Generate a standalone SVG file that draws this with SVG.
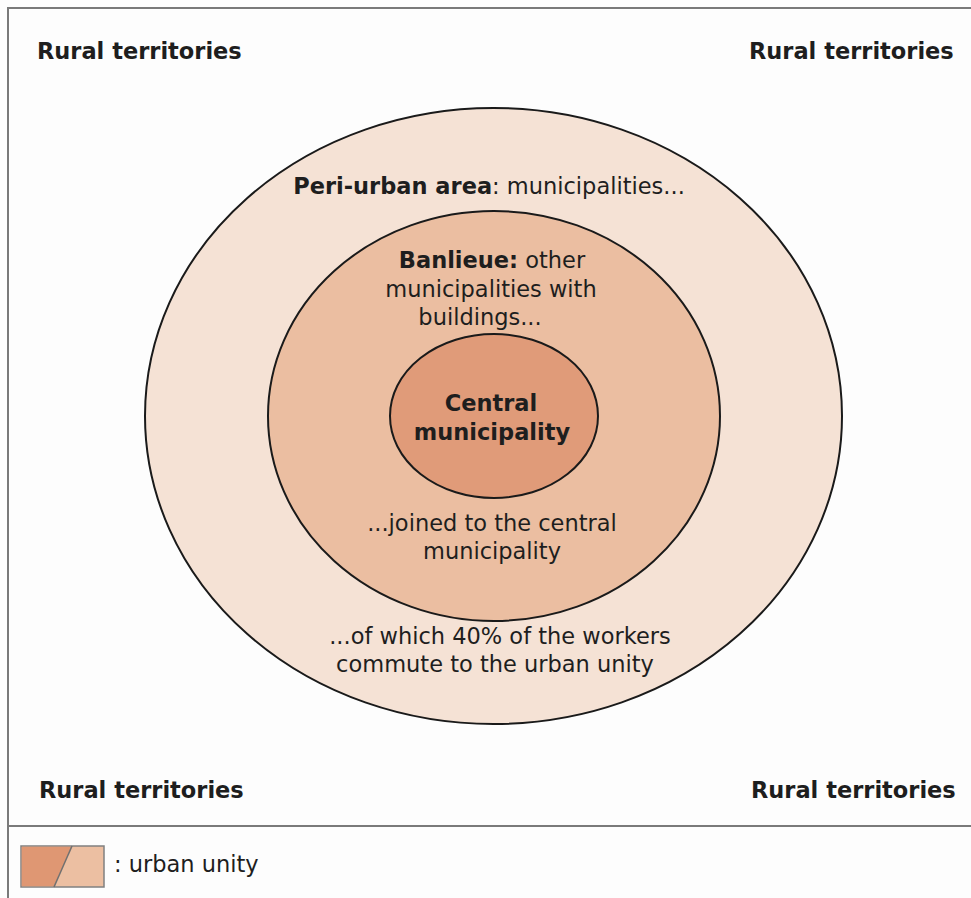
<svg xmlns="http://www.w3.org/2000/svg" width="971" height="898" viewBox="0 0 971 898">
<style>
text{font-family:"DejaVu Sans","Noto Sans",sans-serif;font-size:22.5px;fill:#1e1e1e}
.b{font-weight:bold}
.c{text-anchor:middle}
.ring{stroke:#1a1a1a;stroke-width:2}
.frame{stroke:#7a7a7a;stroke-width:2;fill:none}
</style>
<rect x="0" y="0" width="971" height="898" fill="#fdfdfd"/>
<g id="frame">
<path class="frame" d="M8 898 V8 H971"/>
<line class="frame" x1="8" y1="826" x2="971" y2="826" stroke="#8a8a8a"/>
</g>
<g id="corners">
<text class="b" x="37" y="59">Rural territories</text>
<text class="b" x="749" y="59">Rural territories</text>
<text class="b" x="39" y="798">Rural territories</text>
<text class="b" x="751" y="798">Rural territories</text>
</g>
<g id="peri-urban">
<ellipse class="ring" cx="493.5" cy="416" rx="348.5" ry="308" fill="#f5e2d5"/>
<text class="c" x="489" y="194"><tspan class="b">Peri-urban area</tspan>: municipalities...</text>
<text class="c" x="500" y="644">...of which 40% of the workers</text>
<text class="c" x="495" y="672">commute to the urban unity</text>
</g>
<g id="banlieue">
<ellipse class="ring" cx="494" cy="416" rx="226" ry="205" fill="#ebbea1"/>
<text class="c" x="492" y="268"><tspan class="b">Banlieue:</tspan> other</text>
<text class="c" x="491" y="297">municipalities with</text>
<text class="c" x="480" y="325">buildings...</text>
<text class="c" x="492" y="531">...joined to the central</text>
<text class="c" x="492" y="559">municipality</text>
</g>
<g id="central">
<ellipse class="ring" cx="494" cy="416" rx="104" ry="82" fill="#e09b79"/>
<text class="b c" x="491" y="411">Central</text>
<text class="b c" x="492" y="440">municipality</text>
</g>
<g id="legend">
<rect x="21" y="846" width="83" height="41" fill="#ecbfa2" stroke="#808080" stroke-width="1.5"/>
<path d="M21.75 846.75 H72 L54 886.25 H21.75 Z" fill="#df9773"/>
<line x1="72" y1="846" x2="54" y2="887" stroke="#707070" stroke-width="1.5"/>
<text x="114" y="872">: urban unity</text>
</g>
</svg>
